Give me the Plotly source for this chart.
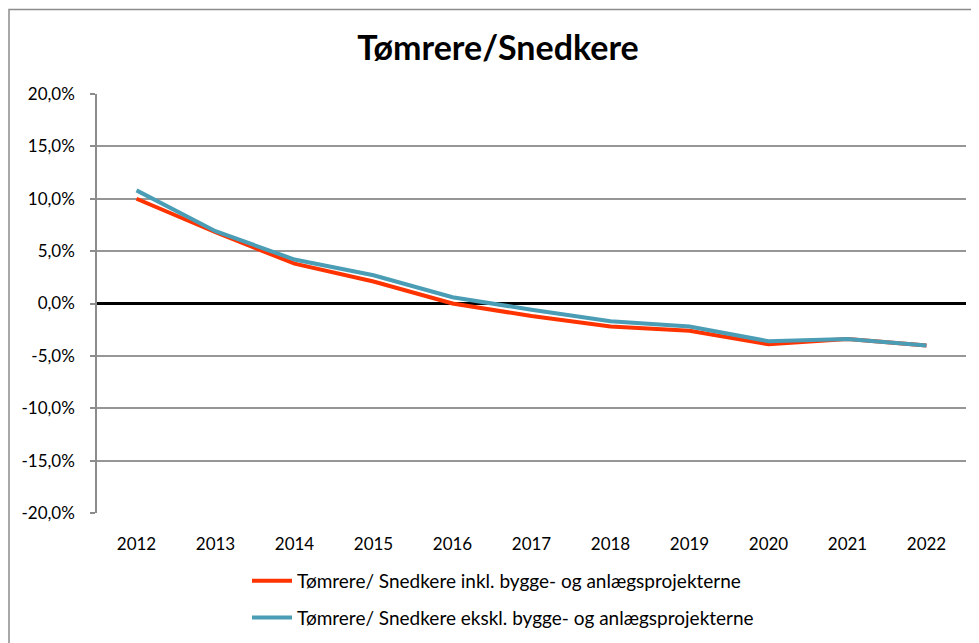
import plotly.graph_objects as go

years = [2012, 2013, 2014, 2015, 2016, 2017, 2018, 2019, 2020, 2021, 2022]
inkl = [10.0, 6.8, 3.8, 2.1, 0.0, -1.2, -2.2, -2.6, -3.9, -3.4, -4.0]
ekskl = [10.8, 6.9, 4.2, 2.7, 0.6, -0.6, -1.7, -2.2, -3.6, -3.4, -4.0]
y_ticks = [-20, -15, -10, -5, 0, 5, 10, 15, 20]
y_ticktext = [f"{v:.1f}%".replace(".", ",") for v in y_ticks]

name_inkl = "Tømrere/ Snedkere inkl. bygge- og anlægsprojekterne"
name_ekskl = "Tømrere/ Snedkere ekskl. bygge- og anlægsprojekterne"

FONT = "Lato"
W, H = 971, 635
L, R, T, B = 89, 13, 86, 130
PW, PH = W - L - R, H - T - B

fig = go.Figure()
fig.add_trace(go.Scatter(x=years, y=inkl, mode="lines", name=name_inkl,
                         line=dict(color="#FF3300", width=4), legendgroup="a"))
fig.add_trace(go.Scatter(x=years, y=ekskl, mode="lines", name=name_ekskl,
                         line=dict(color="#4A9DB4", width=4), legendgroup="b"))

fig.update_layout(
    width=W, height=H,
    margin=dict(l=L, r=R, t=T, b=B, autoexpand=False),
    paper_bgcolor="white", plot_bgcolor="white",
    font=dict(family=FONT, size=17, color="black"),
    title=dict(text="<b>Tømrere/Snedkere</b>", x=490 / W, xanchor="center",
               y=1 - 40 / H, yanchor="middle", font=dict(family=FONT, size=34, color="black")),
    showlegend=True,
    legend=dict(orientation="v", xref="container", yref="container",
                x=239 / W, xanchor="left", y=1 - 554 / H, yanchor="top",
                itemwidth=40, tracegroupgap=9, font=dict(family=FONT, size=19),
                bgcolor="rgba(0,0,0,0)"),
    xaxis=dict(range=[2011.5, 2022.5], tickmode="array", tickvals=years,
               ticktext=[str(y) for y in years], showgrid=False, zeroline=False,
               showline=False, ticks="", ticklabelstandoff=19, fixedrange=True),
    yaxis=dict(range=[-20, 20], tickmode="array", tickvals=y_ticks, ticktext=y_ticktext,
               showgrid=True, gridcolor="#969696",
               gridwidth=1.5, zeroline=True, zerolinecolor="black", zerolinewidth=3,
               showline=True, linecolor="#8c8c8c", linewidth=1.5, ticks="outside",
               ticklen=5, tickcolor="#8c8c8c", tickwidth=1.5, ticklabelstandoff=12),
    shapes=[dict(type="rect", xref="paper", yref="paper",
                 x0=(1 - L) / PW, x1=(W + 20 - L) / PW,
                 y0=-(B + 20) / PH, y1=(T - 1.5) / PH + 1,
                 line=dict(color="#8c8c8c", width=1.5), fillcolor="rgba(0,0,0,0)", layer="below")],
)

fig.write_html("out.html")
